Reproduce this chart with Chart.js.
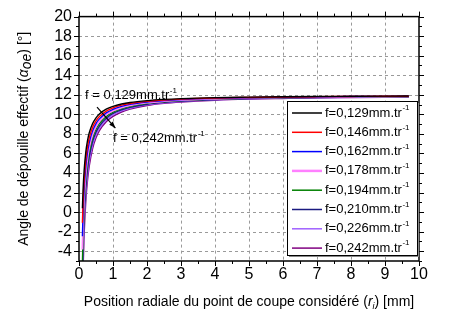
<!DOCTYPE html>
<html>
<head>
<meta charset="utf-8">
<script src="https://cdn.jsdelivr.net/npm/chart.js@4.4.1/dist/chart.umd.min.js"></script>
<style>
  html, body { margin: 0; padding: 0; background: #fff; }
  #wrap { width: 451px; height: 320px; }
</style>
</head>
<body>
<div id="wrap"><canvas id="chart" width="451" height="320"></canvas></div>
<script>
// radial position r (mm)
const rValues = [0.1, 0.12, 0.15, 0.2, 0.25, 0.3, 0.4, 0.5, 0.6, 0.8, 1, 1.25, 1.5, 2, 2.5, 3, 4, 5, 6, 7, 8, 9, 9.7];

// effective clearance angle (deg) for each feed
const alpha129 = [0.40, 2.29, 4.21, 6.14, 7.31, 8.09, 9.06, 9.65, 10.04, 10.53, 10.82, 11.06, 11.22, 11.41, 11.53, 11.61, 11.71, 11.76, 11.80, 11.83, 11.85, 11.87, 11.88];
const alpha146 = [-1.08, 1.04, 3.19, 5.37, 6.69, 7.57, 8.68, 9.34, 9.78, 10.34, 10.67, 10.94, 11.11, 11.33, 11.47, 11.56, 11.67, 11.73, 11.78, 11.81, 11.83, 11.85, 11.86];
const alpha162 = [-2.46, -0.13, 2.25, 4.65, 6.11, 7.09, 8.31, 9.05, 9.54, 10.15, 10.52, 10.82, 11.02, 11.26, 11.41, 11.51, 11.63, 11.70, 11.75, 11.79, 11.82, 11.84, 11.85];
const alpha178 = [-3.82, -1.28, 1.30, 3.94, 5.53, 6.61, 7.95, 8.76, 9.30, 9.97, 10.38, 10.70, 10.92, 11.19, 11.35, 11.46, 11.59, 11.68, 11.73, 11.77, 11.80, 11.82, 11.83];
const alpha194 = [-5.16, -2.43, 0.37, 3.22, 4.96, 6.12, 7.59, 8.47, 9.05, 9.79, 10.23, 10.59, 10.82, 11.12, 11.29, 11.41, 11.56, 11.65, 11.71, 11.75, 11.78, 11.80, 11.82];
const alpha210 = [-6.48, -3.56, -0.56, 2.51, 4.39, 5.64, 7.22, 8.18, 8.81, 9.61, 10.09, 10.47, 10.72, 11.04, 11.23, 11.36, 11.52, 11.62, 11.68, 11.73, 11.76, 11.79, 11.80];
const alpha226 = [-7.78, -4.69, -1.48, 1.80, 3.81, 5.16, 6.86, 7.89, 8.57, 9.43, 9.94, 10.35, 10.63, 10.97, 11.18, 11.31, 11.48, 11.59, 11.66, 11.71, 11.74, 11.77, 11.79];
const alpha242 = [-9.06, -5.79, -2.40, 1.10, 3.24, 4.68, 6.50, 7.60, 8.33, 9.24, 9.79, 10.24, 10.53, 10.90, 11.12, 11.26, 11.45, 11.56, 11.63, 11.69, 11.72, 11.75, 11.77];

const feedLabels = ['0,129', '0,146', '0,162', '0,178', '0,194', '0,210', '0,226', '0,242'];
const seriesValues = [alpha129, alpha146, alpha162, alpha178, alpha194, alpha210, alpha226, alpha242];

const xTicks = [0, 1, 2, 3, 4, 5, 6, 7, 8, 9, 10];
const yTicks = [-4, -2, 0, 2, 4, 6, 8, 10, 12, 14, 16, 18, 20];

const colors = ['#000000', '#ff0000', '#0000ff', '#ff80ff', '#008000', '#1a1a80', '#a060ff', '#800080'];
const FONT = "Arial, 'Liberation Sans', sans-serif";

function drawRich(ctx, parts, x, y) {
    // parts: [{t, font, dy}] drawn centred on x
    let total = 0;
    parts.forEach(p => { ctx.font = p.font; total += ctx.measureText(p.t).width; });
    let cx = x - total / 2;
    ctx.textAlign = 'left';
    ctx.textBaseline = 'middle';
    parts.forEach(p => {
        ctx.font = p.font;
        ctx.fillText(p.t, cx, y + (p.dy || 0));
        cx += ctx.measureText(p.t).width;
    });
}

function drawSup(ctx, text, sup, x, y, size) {
    ctx.textAlign = 'left';
    ctx.textBaseline = 'middle';
    ctx.font = size + 'px ' + FONT;
    ctx.fillText(text, x, y);
    const w = ctx.measureText(text).width;
    ctx.font = Math.round(size * 0.65) + 'px ' + FONT;
    ctx.fillText(sup, x + w + 0.5, y - size * 0.38);
}

const framePlugin = {
    id: 'frame',
    beforeDatasetsDraw(chart) {
        const { ctx, chartArea: a, scales: { x, y } } = chart;
        ctx.save();
        ctx.strokeStyle = '#9a9a9a';
        ctx.lineWidth = 1;
        ctx.setLineDash([3, 3]);
        xTicks.slice(1, -1).forEach(v => {
            const px = Math.round(x.getPixelForValue(v)) + 0.5;
            ctx.beginPath(); ctx.moveTo(px, a.top); ctx.lineTo(px, a.bottom); ctx.stroke();
        });
        yTicks.slice(0, -1).forEach(v => {
            const py = Math.round(y.getPixelForValue(v)) + 0.5;
            ctx.beginPath(); ctx.moveTo(a.left, py); ctx.lineTo(a.right, py); ctx.stroke();
        });
        ctx.restore();
    },
    afterDraw(chart) {
        const { ctx, chartArea: a, scales: { x, y } } = chart;
        ctx.save();
        ctx.fillStyle = '#000';
        ctx.strokeStyle = '#000';

        // annotations with arrow
        const t1x = x.getPixelForValue(0.18), t1y = y.getPixelForValue(11.95);
        const t2x = x.getPixelForValue(1.0), t2y = y.getPixelForValue(7.5);
        drawSup(ctx, 'f = 0,129mm.tr', '-1', t1x, t1y, 13);
        drawSup(ctx, 'f = 0,242mm.tr', '-1', t2x, t2y, 13);
        const ax1 = x.getPixelForValue(0.53), ay1 = y.getPixelForValue(10.75);
        const ax2 = x.getPixelForValue(1.07), ay2 = y.getPixelForValue(8.6);
        ctx.lineWidth = 1.2;
        ctx.beginPath(); ctx.moveTo(ax1, ay1); ctx.lineTo(ax2, ay2); ctx.stroke();
        const ang = Math.atan2(ay2 - ay1, ax2 - ax1);
        ctx.beginPath();
        ctx.moveTo(ax2, ay2);
        ctx.lineTo(ax2 - 7 * Math.cos(ang - 0.35), ay2 - 7 * Math.sin(ang - 0.35));
        ctx.lineTo(ax2 - 7 * Math.cos(ang + 0.35), ay2 - 7 * Math.sin(ang + 0.35));
        ctx.closePath(); ctx.fill();

        // frame
        ctx.lineWidth = 1.5;
        ctx.strokeRect(a.left, a.top, a.right - a.left, a.bottom - a.top);

        // ticks, outside on all four sides
        ctx.lineWidth = 1;
        for (let v = 0; v <= 10; v += 0.5) {
            const px = Math.round(x.getPixelForValue(v)) + 0.5;
            const len = Number.isInteger(v) ? 5 : 3;
            ctx.beginPath();
            ctx.moveTo(px, a.bottom); ctx.lineTo(px, a.bottom + len);
            ctx.moveTo(px, a.top); ctx.lineTo(px, a.top - len);
            ctx.stroke();
        }
        for (let v = -5; v <= 20; v += 1) {
            const py = Math.round(y.getPixelForValue(v)) + 0.5;
            const len = (v % 2 === 0) ? 5 : 3;
            ctx.beginPath();
            ctx.moveTo(a.left, py); ctx.lineTo(a.left - len, py);
            ctx.moveTo(a.right, py); ctx.lineTo(a.right + len, py);
            ctx.stroke();
        }

        // legend box
        const lx = 287, ly = 101, lw = 130, lh = 154;
        ctx.fillStyle = '#888';
        ctx.fillRect(lx + 2, ly + 2, lw, lh);
        ctx.fillStyle = '#fff';
        ctx.fillRect(lx, ly, lw, lh);
        ctx.strokeStyle = '#000';
        ctx.lineWidth = 1;
        ctx.strokeRect(lx + 0.5, ly + 0.5, lw, lh);
        feedLabels.forEach((lab, i) => {
            const yy = ly + 12 + i * 19.3;
            ctx.strokeStyle = colors[i];
            ctx.lineWidth = i === 3 ? 2.5 : 1.5;
            ctx.beginPath(); ctx.moveTo(lx + 5, yy); ctx.lineTo(lx + 35, yy); ctx.stroke();
            ctx.fillStyle = '#000';
            drawSup(ctx, 'f=' + lab + 'mm.tr', '-1', lx + 38, yy, 13);
        });

        // axis titles
        ctx.fillStyle = '#000';
        drawRich(ctx, [
            { t: 'Position radiale du point de coupe considéré (', font: '14px ' + FONT },
            { t: 'r', font: 'italic 14px ' + FONT },
            { t: 'i', font: 'italic 9px ' + FONT, dy: 4 },
            { t: ') [mm]', font: '14px ' + FONT }
        ], (a.left + a.right) / 2, 302);
        ctx.translate(24, (a.top + a.bottom) / 2);
        ctx.rotate(-Math.PI / 2);
        drawRich(ctx, [
            { t: 'Angle de dépouille effectif (', font: '14px ' + FONT },
            { t: 'α', font: 'italic 14px ' + FONT },
            { t: 'oe', font: 'italic 14px ' + FONT, dy: 3 },
            { t: ') [°]', font: '14px ' + FONT }
        ], 0, 0);
        ctx.restore();
    }
};

const datasets = seriesValues.map((vals, i) => ({
    label: 'f=' + feedLabels[i] + 'mm.tr-1',
    data: rValues.map((r, j) => ({ x: r, y: vals[j] })),
    borderColor: colors[i],
    backgroundColor: colors[i],
    borderWidth: i === 3 ? 1.8 : 1.4,
    pointRadius: 0,
    cubicInterpolationMode: 'monotone',
    fill: false
}));

new Chart(document.getElementById('chart').getContext('2d'), {
    type: 'line',
    data: { datasets: datasets },
    options: {
        responsive: false,
        animation: false,
        devicePixelRatio: 1,
        layout: { padding: { top: 10, right: 32, left: 0, bottom: 0 } },
        plugins: { legend: { display: false }, tooltip: { enabled: false } },
        scales: {
            x: {
                type: 'linear',
                min: 0,
                max: 10,
                grid: { display: false, drawTicks: false },
                border: { display: false },
                afterBuildTicks: scale => { scale.ticks = xTicks.map(v => ({ value: v })); },
                afterFit: scale => { scale.height = 59; },
                ticks: { color: '#000', padding: 4, autoSkip: false, maxRotation: 0, font: { family: FONT, size: 16 } }
            },
            y: {
                min: -5,
                max: 20,
                grid: { display: false, drawTicks: false },
                border: { display: false },
                afterBuildTicks: scale => { scale.ticks = yTicks.map(v => ({ value: v })); },
                afterFit: scale => { scale.width = 79; },
                ticks: { color: '#000', padding: 7, autoSkip: false, font: { family: FONT, size: 16 } }
            }
        }
    },
    plugins: [framePlugin]
});
</script>
</body>
</html>
